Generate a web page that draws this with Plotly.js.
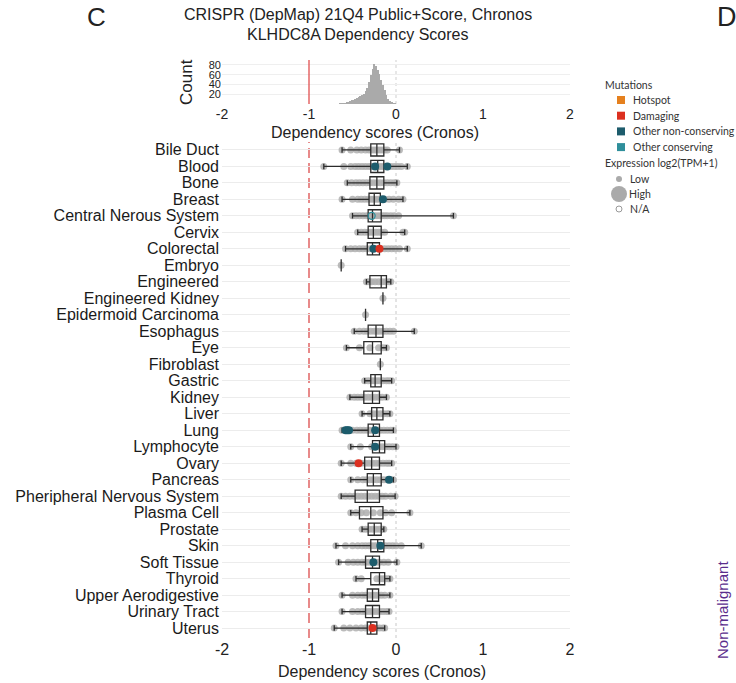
<!DOCTYPE html>
<html>
<head>
<meta charset="utf-8">
<script src="https://cdn.plot.ly/plotly-3.0.1.min.js"></script>
<style>html,body{margin:0;padding:0;background:#fff;}#chart{width:736px;height:683px;}</style>
</head>
<body>
<div id="chart"></div>
<script>
// ---------- DATA ----------
const categories = ["Bile Duct","Blood","Bone","Breast","Central Nerous System","Cervix","Colorectal","Embryo","Engineered","Engineered Kidney","Epidermoid Carcinoma","Esophagus","Eye","Fibroblast","Gastric","Kidney","Liver","Lung","Lymphocyte","Ovary","Pancreas","Pheripheral Nervous System","Plasma Cell","Prostate","Skin","Soft Tissue","Thyroid","Upper Aerodigestive","Urinary Tract","Uterus"];
const lowerFence = [-0.62,-0.83,-0.56,-0.62,-0.50,-0.44,-0.58,-0.63,-0.34,-0.15,-0.35,-0.48,-0.57,-0.18,-0.36,-0.53,-0.39,-0.62,-0.52,-0.63,-0.52,-0.63,-0.52,-0.39,-0.69,-0.66,-0.46,-0.62,-0.62,-0.71];
const q1 =         [-0.29,-0.29,-0.30,-0.31,-0.32,-0.32,-0.33,-0.63,-0.30,-0.15,-0.35,-0.32,-0.37,-0.18,-0.29,-0.37,-0.28,-0.32,-0.27,-0.36,-0.33,-0.47,-0.42,-0.32,-0.29,-0.35,-0.29,-0.33,-0.35,-0.33];
const median =     [-0.22,-0.21,-0.22,-0.25,-0.27,-0.26,-0.27,-0.63,-0.17,-0.15,-0.35,-0.23,-0.27,-0.18,-0.24,-0.27,-0.22,-0.26,-0.19,-0.28,-0.26,-0.33,-0.29,-0.25,-0.21,-0.27,-0.19,-0.27,-0.27,-0.29];
const q3 =         [-0.14,-0.14,-0.14,-0.18,-0.17,-0.17,-0.19,-0.63,-0.11,-0.15,-0.35,-0.15,-0.17,-0.18,-0.17,-0.19,-0.15,-0.19,-0.13,-0.19,-0.17,-0.19,-0.15,-0.17,-0.14,-0.19,-0.13,-0.20,-0.19,-0.22];
const upperFence = [0.04,0.13,0.01,0.08,0.66,0.10,0.13,-0.63,-0.06,-0.15,-0.35,0.21,-0.11,-0.18,-0.05,-0.11,-0.07,-0.03,0.00,-0.05,-0.03,-0.01,0.16,-0.14,0.29,0.01,-0.07,-0.07,-0.08,-0.13];

// individual cell-line scores (grey dots), one list per category
const cellScores = [
  [-0.62,-0.52,-0.45,-0.40,-0.35,-0.31,-0.28,-0.25,-0.22,-0.19,-0.16,-0.13,-0.10,0.04],
  [-0.83,-0.60,-0.52,-0.47,-0.43,-0.39,-0.35,-0.31,-0.28,-0.25,-0.22,-0.19,-0.16,-0.13,-0.10,-0.06,-0.02,0.02,0.06,0.13],
  [-0.56,-0.51,-0.46,-0.42,-0.38,-0.34,-0.30,-0.26,-0.22,-0.18,-0.14,-0.10,-0.06,-0.02,0.01],
  [-0.62,-0.50,-0.44,-0.40,-0.36,-0.32,-0.29,-0.26,-0.23,-0.20,-0.17,-0.13,-0.08,-0.03,0.03,0.08],
  [-0.50,-0.46,-0.42,-0.38,-0.34,-0.31,-0.28,-0.25,-0.22,-0.19,-0.16,-0.13,-0.10,-0.06,-0.02,0.03,0.66],
  [-0.44,-0.40,-0.36,-0.32,-0.29,-0.26,-0.23,-0.20,-0.17,-0.13,0.08,0.10],
  [-0.58,-0.52,-0.47,-0.42,-0.38,-0.34,-0.30,-0.27,-0.24,-0.21,-0.17,-0.13,-0.09,-0.05,-0.01,0.04,0.13],
  [-0.63],
  [-0.34,-0.31,-0.28,-0.24,-0.20,-0.16,-0.12,-0.08,-0.06],
  [-0.15],
  [-0.35],
  [-0.48,-0.42,-0.37,-0.33,-0.29,-0.25,-0.22,-0.19,-0.15,-0.11,-0.07,-0.03,0.21],
  [-0.57,-0.42,-0.30,-0.20,-0.15,-0.11],
  [-0.18],
  [-0.36,-0.32,-0.28,-0.25,-0.22,-0.19,-0.15,-0.11,-0.08,-0.05],
  [-0.53,-0.48,-0.44,-0.40,-0.36,-0.32,-0.28,-0.24,-0.20,-0.16,-0.11],
  [-0.39,-0.30,-0.26,-0.22,-0.18,-0.14,-0.10,-0.07],
  [-0.62,-0.55,-0.50,-0.45,-0.41,-0.37,-0.33,-0.30,-0.27,-0.24,-0.21,-0.18,-0.14,-0.10,-0.06,-0.03],
  [-0.52,-0.41,-0.28,-0.24,-0.20,-0.16,-0.12,-0.08,-0.04,0.00],
  [-0.63,-0.52,-0.46,-0.40,-0.35,-0.31,-0.27,-0.23,-0.19,-0.15,-0.11,-0.08,-0.05],
  [-0.52,-0.44,-0.38,-0.34,-0.30,-0.26,-0.22,-0.18,-0.14,-0.10,-0.06,-0.03],
  [-0.63,-0.58,-0.53,-0.48,-0.44,-0.40,-0.36,-0.32,-0.28,-0.24,-0.20,-0.16,-0.12,-0.06,-0.01],
  [-0.52,-0.46,-0.40,-0.34,-0.26,-0.18,-0.12,-0.05,0.16],
  [-0.39,-0.35,-0.31,-0.27,-0.23,-0.19,-0.15,-0.14],
  [-0.69,-0.58,-0.50,-0.44,-0.39,-0.35,-0.31,-0.28,-0.25,-0.22,-0.19,-0.16,-0.12,-0.08,-0.04,0.00,0.06,0.29],
  [-0.66,-0.55,-0.49,-0.44,-0.39,-0.35,-0.31,-0.27,-0.23,-0.19,-0.14,-0.09,0.01],
  [-0.46,-0.40,-0.22,-0.18,-0.15,-0.12,-0.09,-0.07],
  [-0.62,-0.50,-0.44,-0.39,-0.35,-0.31,-0.27,-0.24,-0.21,-0.17,-0.13,-0.07],
  [-0.62,-0.50,-0.44,-0.39,-0.35,-0.31,-0.27,-0.23,-0.19,-0.15,-0.11,-0.08],
  [-0.71,-0.60,-0.53,-0.46,-0.40,-0.35,-0.31,-0.27,-0.23,-0.19,-0.15,-0.13]
];

// mutated cell lines
const damagingCat   = ["Colorectal","Ovary","Uterus"];
const damagingScore = [-0.19,-0.43,-0.27];
const otherNonCat   = ["Blood","Blood","Breast","Colorectal","Lung","Lung","Lung","Lung","Lymphocyte","Pancreas","Skin","Soft Tissue"];
const otherNonScore = [-0.24,-0.10,-0.15,-0.26,-0.58,-0.56,-0.54,-0.24,-0.24,-0.08,-0.18,-0.26];
const naExprCat     = ["Central Nerous System"];
const naExprScore   = [-0.28];

// histogram of all scores
const histBins   = [-0.83,-0.79,-0.69,-0.67,-0.65,-0.63,-0.61,-0.59,-0.57,-0.55,-0.53,-0.51,-0.49,-0.47,-0.45,-0.43,-0.41,-0.39,-0.37,-0.35,-0.33,-0.31,-0.29,-0.27,-0.25,-0.23,-0.21,-0.19,-0.17,-0.15,-0.13,-0.11,-0.09,-0.07,-0.05,-0.03,-0.01,0.01,0.03,0.05,0.13,0.21,0.29,0.65];
const histCounts = [1,1,1,1,2,2,3,3,4,5,6,8,9,10,12,14,16,18,21,26,33,45,60,72,82,78,70,62,50,38,28,18,11,7,4,3,2,1,1,1,1,1,1,1];

const xTicks = [-2,-1,0,1,2];
const xTickLabels = ["-2","-1","0","1","2"];
const countTicks = [20,40,60,80];
const refLines = [-1, 0];

// ---------- BUILD ----------
const ptX = [], ptY = [];
cellScores.forEach((arr,i)=>arr.forEach(v=>{ptX.push(v);ptY.push(categories[i]);}));

const FONT = "Liberation Sans, Arial, sans-serif";
const LFONT = "Lato, sans-serif";
const TEAL = "#1d5c6c", RED = "#dc3020", ORANGE = "#e5801e", TEAL2 = "#2f8f9b";

const traces = [
  {type:"box", orientation:"h", x:ptX, y:ptY, xaxis:"x", yaxis:"y",
   boxpoints:"all", jitter:0, pointpos:0, whiskerwidth:0,
   line:{color:"rgba(0,0,0,0)", width:0}, fillcolor:"rgba(0,0,0,0)",
   marker:{color:"rgba(175,175,175,0.85)", size:7}, hoverinfo:"x+y", showlegend:false},
  {type:"box", orientation:"h", y:categories, q1:q1, median:median, q3:q3,
   lowerfence:lowerFence, upperfence:upperFence, xaxis:"x", yaxis:"y",
   boxpoints:false, width:0.74, whiskerwidth:0.45,
   line:{color:"#2b2b2b", width:1.3}, fillcolor:"rgba(0,0,0,0)", showlegend:false},
  {type:"scatter", mode:"markers", x:otherNonScore, y:otherNonCat, xaxis:"x", yaxis:"y",
   marker:{color:TEAL, size:8}, showlegend:false},
  {type:"scatter", mode:"markers", x:damagingScore, y:damagingCat, xaxis:"x", yaxis:"y",
   marker:{color:RED, size:8}, showlegend:false},
  {type:"scatter", mode:"markers", x:naExprScore, y:naExprCat, xaxis:"x", yaxis:"y",
   marker:{color:"rgba(0,0,0,0)", size:7, line:{color:TEAL2, width:1.3}}, showlegend:false},
  {type:"bar", x:histBins, y:histCounts, xaxis:"x2", yaxis:"y2",
   marker:{color:"#aaaaaa", line:{width:0}}, showlegend:false}
];

const W = 736, H = 683;
const px = v => v / W, py = v => 1 - v / H;
const HB = 104, HT = 60; // histogram panel pixel bounds

const shapes = [
  {type:"line", xref:"x", yref:"paper", x0:refLines[0], x1:refLines[0], y0:py(638), y1:py(142),
   line:{color:"#e88a8a", width:2, dash:"10px,5px"}, layer:"below"},
  {type:"line", xref:"x", yref:"paper", x0:refLines[1], x1:refLines[1], y0:py(638), y1:py(142),
   line:{color:"#c8c8c8", width:1, dash:"dot"}, layer:"below"},
  {type:"line", xref:"x2", yref:"paper", x0:refLines[0], x1:refLines[0], y0:py(HB), y1:py(HT),
   line:{color:"#e05050", width:1.3}},
  {type:"line", xref:"x2", yref:"paper", x0:refLines[1], x1:refLines[1], y0:py(HB), y1:py(HT),
   line:{color:"#cfcfcf", width:1, dash:"dot"}, layer:"below"}
];

function ann(text, x, y, opts) {
  return Object.assign({text:text, x:px(x), y:py(y), xref:"paper", yref:"paper",
    xanchor:"center", yanchor:"middle", showarrow:false,
    font:{family:FONT, size:16, color:"#222"}}, opts || {});
}
const lf = {family:LFONT, size:10.5, color:"#333"};

// legend swatches (paper space)
const legendItems = [["Hotspot",ORANGE],["Damaging",RED],["Other non-conserving",TEAL],["Other conserving",TEAL2]];
const annotations = [
  ann("CRISPR (DepMap) 21Q4 Public+Score, Chronos", 358, 15),
  ann("KLHDC8A Dependency Scores", 357, 34),
  ann("Dependency scores (Cronos)", 375, 132),
  ann("Dependency scores (Cronos)", 382, 671),
  ann("Count", 186, 82, {textangle:-90, font:{family:FONT, size:17, color:"#222"}}),
  ann("C", 96, 17, {font:{family:FONT, size:26, color:"#222"}}),
  ann("D", 715, 17, {xanchor:"left", font:{family:FONT, size:27, color:"#222"}}),
  ann("Non-malignant", 722, 610, {font:{family:FONT, size:15, color:"#5a2d8c"}, textangle:-90}),
  ann("Mutations", 603, 85, {xanchor:"left", font:lf}),
  ann("Expression log2(TPM+1)", 603, 163, {xanchor:"left", font:lf}),
  ann("Low", 628, 179, {xanchor:"left", font:lf}),
  ann("High", 627, 194, {xanchor:"left", font:lf}),
  ann("N/A", 628, 209, {xanchor:"left", font:lf})
];
legendItems.forEach((it,i)=>{
  const cy = 100 + i*15.7;
  shapes.push({type:"rect", xref:"paper", yref:"paper", x0:px(617), x1:px(625), y0:py(cy+4), y1:py(cy-4), fillcolor:it[1], line:{width:0}});
  annotations.push(ann(it[0], 631, cy, {xanchor:"left", font:lf}));
});
shapes.push({type:"circle", xref:"paper", yref:"paper", x0:px(616), x1:px(622), y0:py(182), y1:py(176), fillcolor:"#aaaaaa", line:{width:0}});
shapes.push({type:"circle", xref:"paper", yref:"paper", x0:px(611), x1:px(627), y0:py(202), y1:py(186), fillcolor:"#aaaaaa", line:{width:0}});
shapes.push({type:"circle", xref:"paper", yref:"paper", x0:px(616), x1:px(622), y0:py(212), y1:py(206), fillcolor:"rgba(0,0,0,0)", line:{color:"#999", width:1}});

const layout = {
  width:W, height:H, margin:{l:0,r:0,t:0,b:0},
  paper_bgcolor:"#fff", plot_bgcolor:"#fff",
  showlegend:false, boxmode:"overlay", bargap:0,
  font:{family:FONT, color:"#222"},
  xaxis:{domain:[px(222),px(570)], range:[-2,2], tickvals:xTicks, ticktext:xTickLabels,
         showgrid:false, zeroline:false, showline:false, ticks:"",
         tickfont:{family:FONT, size:16, color:"#222"}, anchor:"y"},
  yaxis:{domain:[py(638),py(140)], type:"category", categoryorder:"array", categoryarray:categories,
         tickmode:"array", tickvals:categories, ticktext:categories,
         range:[categories.length-1+0.6, -0.6], showgrid:true, gridcolor:"#ececec", gridwidth:1,
         zeroline:false, showline:false, ticks:"", ticklabelstandoff:2,
         tickfont:{family:FONT, size:16, color:"#1a1a1a"}, anchor:"x"},
  xaxis2:{domain:[px(222),px(570)], range:[-2,2], tickvals:xTicks, ticktext:xTickLabels,
          showgrid:false, zeroline:false, showline:false, ticks:"",
          tickfont:{family:FONT, size:14, color:"#222"}, anchor:"y2"},
  yaxis2:{domain:[py(HB),py(HT)], range:[0,90], tickvals:countTicks,
          showgrid:true, gridcolor:"#efefef", zeroline:false, showline:false, ticks:"",
          tickfont:{family:FONT, size:11, color:"#222"}, anchor:"x2"},
  shapes:shapes, annotations:annotations
};

Plotly.newPlot("chart", traces, layout, {staticPlot:true, displayModeBar:false});
</script>
</body>
</html>
